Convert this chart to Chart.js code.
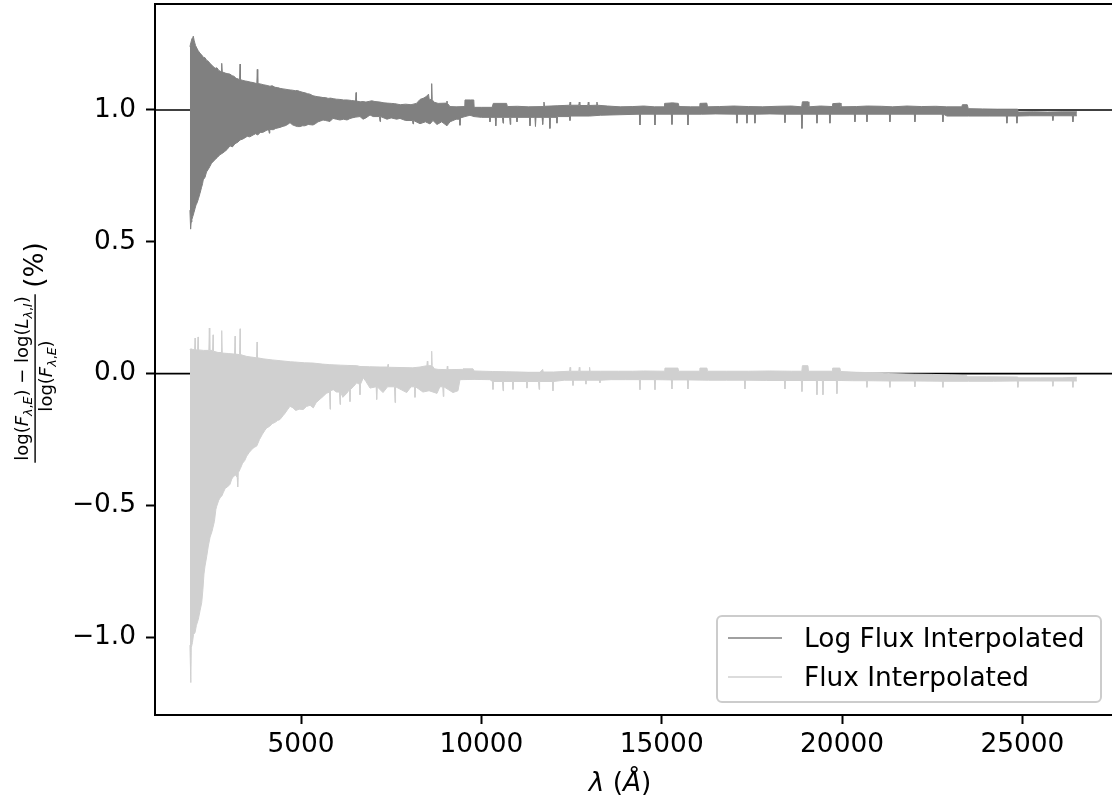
<!DOCTYPE html>
<html><head><meta charset="utf-8">
<script src="https://cdn.jsdelivr.net/npm/chart.js@4.4.1/dist/chart.umd.min.js"></script>
<style>
html,body{margin:0;padding:0;overflow:hidden;background:#fff;width:1112px;height:806px}
#wrap{position:absolute;left:0;top:0;width:1140px;height:806px}
</style>
</head><body><div id="wrap"><canvas id="c" width="1140" height="806"></canvas></div>
<script>
// ---- tick labels / axis ----
const xTickValues = [5000, 10000, 15000, 20000, 25000];
const yTickValues = [-1.0, -0.5, 0.0, 0.5, 1.0];
const refLevels = [1.0, 0.0];
const seriesNames = ["Log Flux Interpolated", "Flux Interpolated"];
const X_MIN = 952, X_MAX = 27567, Y_MIN = -1.295, Y_MAX = 1.402;

// ---- Log Flux Interpolated: upper / lower envelope [wavelength, value] ----
const logFluxUpper = [[1920,1.24],[1945,1.255],[1975,1.27],[2000,1.275],[2014,1.28],[2040,1.262],[2075,1.245],[2110,1.235],[2150,1.225],[2200,1.215],[2240,1.21],[2290,1.2],[2340,1.198],[2385,1.188],[2430,1.185],[2480,1.176],[2530,1.17],[2570,1.164],[2620,1.158],[2670,1.16],[2720,1.15],[2788,1.145],[2802,1.177],[2816,1.145],[2860,1.142],[2900,1.14],[2950,1.138],[3030,1.136],[3090,1.13],[3140,1.128],[3200,1.12],[3250,1.118],[3296,1.115],[3309,1.174],[3322,1.115],[3390,1.112],[3450,1.11],[3500,1.109],[3590,1.106],[3670,1.104],[3775,1.1],[3788,1.154],[3801,1.1],[3870,1.099],[3950,1.096],[4060,1.093],[4140,1.09],[4200,1.092],[4280,1.086],[4350,1.085],[4420,1.082],[4500,1.08],[4560,1.079],[4640,1.077],[4700,1.076],[4770,1.075],[4840,1.073],[4900,1.074],[4970,1.07],[5050,1.067],[5110,1.065],[5180,1.062],[5250,1.06],[5330,1.054],[5400,1.052],[5470,1.05],[5540,1.049],[5610,1.047],[5680,1.047],[5750,1.044],[5820,1.045],[5890,1.043],[5980,1.041],[6080,1.04],[6180,1.038],[6280,1.038],[6400,1.036],[6512,1.034],[6525,1.066],[6538,1.034],[6640,1.031],[6720,1.032],[6800,1.03],[6900,1.033],[6960,1.035],[7050,1.032],[7190,1.03],[7300,1.027],[7390,1.026],[7500,1.025],[7600,1.024],[7750,1.02],[7900,1.022],[8050,1.02],[8200,1.025],[8300,1.04],[8400,1.045],[8465,1.05],[8535,1.06],[8555,1.04],[8610,1.04],[8623,1.10],[8636,1.04],[8680,1.03],[8800,1.025],[9035,1.026],[9047,1.034],[9060,1.025],[9130,1.013],[9300,1.012],[9530,1.013],[9546,1.038],[9700,1.038],[9790,1.038],[9800,1.01],[10000,1.01],[10300,1.01],[10330,1.025],[10700,1.025],[10720,1.013],[11000,1.014],[11300,1.012],[11720,1.013],[11736,1.03],[11752,1.014],[12100,1.016],[12445,1.018],[12460,1.03],[12475,1.018],[12700,1.018],[12715,1.03],[12730,1.017],[12950,1.017],[12965,1.03],[12980,1.017],[13190,1.018],[13205,1.03],[13220,1.018],[13500,1.015],[13850,1.012],[14200,1.013],[14500,1.015],[14800,1.012],[15065,1.012],[15080,1.025],[15300,1.027],[15460,1.025],[15480,1.013],[15800,1.012],[16045,1.012],[16060,1.025],[16250,1.026],[16270,1.012],[16600,1.013],[17000,1.015],[17400,1.013],[17800,1.012],[18200,1.014],[18600,1.015],[18880,1.012],[18900,1.031],[19060,1.031],[19080,1.012],[19400,1.015],[19725,1.013],[19740,1.024],[19950,1.026],[19970,1.012],[20400,1.013],[20700,1.015],[21100,1.014],[21400,1.012],[21800,1.015],[22200,1.013],[22600,1.014],[22900,1.012],[23320,1.012],[23335,1.02],[23470,1.02],[23500,1.005],[23900,1.004],[24300,1.003],[24870,1.003],[24880,0.992],[25300,0.993],[25700,0.992],[26100,0.993],[26510,0.993]];
const logFluxLower = [[1920,0.62],[1940,0.548],[1955,0.575],[1975,0.585],[2000,0.596],[2030,0.61],[2060,0.625],[2090,0.64],[2120,0.648],[2160,0.665],[2200,0.684],[2240,0.705],[2270,0.72],[2290,0.735],[2340,0.745],[2380,0.765],[2420,0.773],[2470,0.785],[2520,0.798],[2560,0.804],[2620,0.812],[2680,0.82],[2750,0.83],[2810,0.835],[2880,0.842],[2950,0.85],[3030,0.864],[3100,0.86],[3170,0.872],[3250,0.878],[3310,0.886],[3390,0.89],[3450,0.895],[3510,0.9],[3580,0.898],[3670,0.905],[3740,0.91],[3800,0.905],[3870,0.915],[3940,0.915],[4010,0.92],[4060,0.924],[4105,0.924],[4120,0.912],[4135,0.926],[4230,0.925],[4300,0.93],[4420,0.934],[4500,0.938],[4560,0.94],[4630,0.945],[4695,0.952],[4760,0.944],[4830,0.94],[4900,0.937],[4970,0.937],[5040,0.94],[5110,0.94],[5200,0.945],[5333,0.943],[5400,0.948],[5471,0.955],[5540,0.958],[5610,0.962],[5680,0.96],[5750,0.958],[5800,0.956],[5887,0.968],[5980,0.965],[6080,0.962],[6180,0.965],[6275,0.962],[6350,0.967],[6414,0.97],[6520,0.973],[6635,0.975],[6720,0.965],[6800,0.97],[6913,0.981],[7000,0.975],[7175,0.975],[7190,0.956],[7205,0.975],[7384,0.965],[7500,0.97],[7650,0.965],[7744,0.968],[7900,0.96],[8090,0.96],[8105,0.947],[8120,0.96],[8300,0.948],[8450,0.955],[8576,0.947],[8659,0.96],[8770,0.945],[8900,0.955],[9047,0.94],[9130,0.955],[9300,0.965],[9392,0.965],[9407,0.942],[9422,0.97],[9546,0.975],[9685,0.98],[9796,0.975],[10000,0.972],[10224,0.972],[10239,0.955],[10254,0.972],[10385,0.972],[10400,0.94],[10415,0.972],[10585,0.972],[10600,0.95],[10615,0.972],[10785,0.972],[10800,0.945],[10815,0.972],[10973,0.972],[10988,0.955],[11003,0.972],[11333,0.972],[11348,0.94],[11363,0.972],[11485,0.972],[11500,0.937],[11515,0.972],[11685,0.972],[11700,0.945],[11715,0.972],[11885,0.972],[11900,0.93],[11915,0.972],[12081,0.972],[12096,0.95],[12111,0.975],[12442,0.975],[12457,0.96],[12472,0.977],[13000,0.977],[13300,0.98],[13843,0.982],[14380,0.984],[14397,0.943],[14414,0.984],[14796,0.984],[14813,0.943],[14830,0.984],[15267,0.984],[15284,0.945],[15301,0.984],[15711,0.984],[15728,0.943],[15745,0.984],[16100,0.984],[16500,0.985],[17069,0.984],[17086,0.95],[17103,0.984],[17346,0.984],[17363,0.95],[17380,0.984],[17568,0.984],[17585,0.95],[17602,0.984],[18000,0.985],[18400,0.984],[18417,0.952],[18434,0.984],[18871,0.984],[18888,0.93],[18905,0.984],[19287,0.984],[19304,0.95],[19321,0.984],[19647,0.984],[19664,0.95],[19681,0.984],[20340,0.984],[20357,0.955],[20374,0.984],[20673,0.984],[20690,0.955],[20707,0.984],[21310,0.984],[21327,0.955],[21344,0.984],[22003,0.984],[22020,0.955],[22037,0.984],[22779,0.984],[22796,0.955],[22813,0.984],[22907,0.977],[23500,0.977],[24100,0.977],[24553,0.977],[24570,0.95],[24587,0.977],[24831,0.977],[24848,0.95],[24865,0.977],[25200,0.978],[25828,0.978],[25845,0.96],[25862,0.978],[26383,0.978],[26400,0.955],[26417,0.978],[26510,0.978]];

// ---- Flux Interpolated: upper / lower envelope [wavelength, value] ----
const fluxUpper = [[1920,0.09],[1940,0.094],[1990,0.092],[2050,0.09],[2062,0.135],[2075,0.09],[2132,0.09],[2145,0.139],[2158,0.09],[2300,0.088],[2445,0.088],[2458,0.173],[2471,0.088],[2548,0.088],[2561,0.147],[2574,0.085],[2700,0.08],[2789,0.08],[2802,0.163],[2815,0.078],[3000,0.076],[3157,0.074],[3170,0.142],[3183,0.074],[3296,0.072],[3309,0.17],[3322,0.072],[3500,0.065],[3767,0.06],[3780,0.12],[3793,0.06],[3950,0.056],[4200,0.052],[4420,0.049],[4700,0.045],[4830,0.044],[5100,0.041],[5333,0.04],[5600,0.036],[5800,0.034],[6100,0.032],[6300,0.031],[6550,0.03],[6635,0.027],[6900,0.026],[7190,0.025],[7400,0.025],[7412,0.035],[7424,0.024],[7800,0.023],[8100,0.022],[8300,0.025],[8489,0.03],[8502,0.047],[8515,0.03],[8610,0.03],[8623,0.085],[8636,0.03],[8700,0.018],[8800,0.016],[9043,0.015],[9056,0.028],[9069,0.015],[9480,0.016],[9491,0.018],[9768,0.018],[9800,0.01],[10045,0.009],[10300,0.008],[10700,0.007],[11071,0.006],[11300,0.005],[11625,0.005],[11700,0.016],[11715,0.006],[12000,0.006],[12445,0.009],[12460,0.024],[12475,0.009],[12700,0.009],[12715,0.024],[12730,0.009],[12985,0.009],[13000,0.024],[13015,0.009],[13300,0.009],[13800,0.009],[14200,0.009],[14500,0.01],[15075,0.009],[15090,0.021],[15450,0.021],[15470,0.009],[16045,0.009],[16060,0.021],[16254,0.021],[16270,0.009],[16800,0.009],[17400,0.009],[18000,0.01],[18600,0.009],[18885,0.009],[18900,0.03],[19054,0.03],[19070,0.009],[19725,0.009],[19740,0.021],[19940,0.021],[19960,0.008],[20400,0.005],[21000,0.003],[21330,0.0],[22000,-0.002],[22500,-0.003],[23000,-0.005],[23460,-0.008],[23480,-0.012],[24000,-0.012],[24870,-0.013],[24880,-0.016],[25500,-0.016],[26100,-0.016],[26510,-0.014]];
const fluxLower = [[1920,-1.03],[1945,-1.172],[1958,-1.04],[1990,-1.02],[2020,-0.99],[2062,-0.982],[2100,-0.955],[2153,-0.932],[2200,-0.9],[2247,-0.869],[2280,-0.82],[2310,-0.76],[2339,-0.73],[2390,-0.69],[2430,-0.654],[2480,-0.62],[2530,-0.6],[2569,-0.578],[2600,-0.56],[2640,-0.515],[2663,-0.503],[2720,-0.48],[2770,-0.468],[2802,-0.465],[2850,-0.45],[2900,-0.435],[2960,-0.43],[3032,-0.42],[3080,-0.4],[3130,-0.39],[3190,-0.385],[3232,-0.395],[3245,-0.43],[3262,-0.376],[3320,-0.36],[3380,-0.34],[3440,-0.33],[3495,-0.313],[3560,-0.3],[3620,-0.29],[3700,-0.28],[3772,-0.275],[3850,-0.25],[3930,-0.23],[4000,-0.215],[4049,-0.206],[4130,-0.2],[4200,-0.19],[4280,-0.185],[4350,-0.178],[4418,-0.174],[4500,-0.16],[4560,-0.15],[4620,-0.138],[4695,-0.124],[4780,-0.13],[4850,-0.14],[4950,-0.135],[5064,-0.136],[5150,-0.125],[5250,-0.12],[5341,-0.13],[5420,-0.11],[5500,-0.1],[5618,-0.086],[5700,-0.075],[5790,-0.07],[5804,-0.135],[5818,-0.065],[5895,-0.061],[5980,-0.07],[6066,-0.07],[6081,-0.117],[6096,-0.07],[6160,-0.09],[6267,-0.075],[6343,-0.06],[6358,-0.106],[6373,-0.06],[6450,-0.05],[6544,-0.035],[6620,-0.04],[6635,-0.08],[6650,-0.04],[6727,-0.016],[6800,-0.03],[6913,-0.055],[7083,-0.05],[7098,-0.098],[7113,-0.05],[7273,-0.072],[7400,-0.05],[7591,-0.05],[7606,-0.11],[7621,-0.05],[7930,-0.072],[8050,-0.05],[8145,-0.05],[8160,-0.09],[8175,-0.05],[8380,-0.07],[8550,-0.065],[8770,-0.075],[8850,-0.05],[8930,-0.05],[8945,-0.087],[8960,-0.05],[9213,-0.072],[9352,-0.065],[9407,-0.023],[9800,-0.022],[10239,-0.023],[10307,-0.03],[10322,-0.06],[10337,-0.03],[10585,-0.03],[10600,-0.065],[10615,-0.03],[10862,-0.03],[10877,-0.06],[10892,-0.03],[11250,-0.03],[11265,-0.055],[11280,-0.03],[11585,-0.03],[11600,-0.06],[11615,-0.03],[11970,-0.03],[11985,-0.065],[12000,-0.03],[12300,-0.025],[12525,-0.025],[12540,-0.045],[12555,-0.025],[12885,-0.025],[12900,-0.04],[12915,-0.025],[13273,-0.025],[13288,-0.035],[13303,-0.025],[13600,-0.023],[14000,-0.023],[14380,-0.023],[14397,-0.061],[14414,-0.023],[14796,-0.023],[14813,-0.061],[14830,-0.023],[15267,-0.024],[15284,-0.058],[15301,-0.024],[15711,-0.024],[15728,-0.058],[15745,-0.024],[16300,-0.025],[16800,-0.025],[17291,-0.025],[17308,-0.058],[17325,-0.025],[17900,-0.026],[18400,-0.026],[18417,-0.058],[18434,-0.026],[18871,-0.026],[18888,-0.068],[18905,-0.026],[19287,-0.026],[19304,-0.08],[19321,-0.026],[19453,-0.026],[19470,-0.08],[19487,-0.026],[19841,-0.026],[19858,-0.076],[19875,-0.026],[20300,-0.027],[20673,-0.027],[20690,-0.052],[20707,-0.027],[21310,-0.028],[21327,-0.052],[21344,-0.028],[22003,-0.028],[22020,-0.05],[22037,-0.028],[22779,-0.029],[22796,-0.052],[22813,-0.029],[23500,-0.029],[24200,-0.029],[24858,-0.028],[24875,-0.052],[24892,-0.028],[25400,-0.028],[25828,-0.028],[25845,-0.048],[25862,-0.028],[26383,-0.028],[26400,-0.052],[26417,-0.028],[26510,-0.028]];

const DARK = '#808080', LIGHT = '#d0d0d0';
const FONT = "'DejaVu Sans', sans-serif";
const FS = 26.4;
Chart.defaults.font.family = FONT;

const toXY = arr => arr.map(p => ({x: p[0], y: p[1]}));
const hline = v => [{x: X_MIN, y: v}, {x: X_MAX, y: v}];

function richWidth(ctx, segs){ let w=0; for(const s of segs){ ctx.font=s.f; w+=ctx.measureText(s.t).width; } return w; }
function drawRich(ctx, segs, x, y){ for(const s of segs){ ctx.font=s.f; ctx.fillText(s.t, x, y+(s.dy||0)); x+=ctx.measureText(s.t).width; } }

const framePlugin = {
  id: 'frame',
  afterDraw(chart){
    const {ctx, chartArea: a} = chart;
    ctx.save();
    ctx.strokeStyle = '#000'; ctx.lineWidth = 2;
    ctx.strokeRect(a.left, a.top, a.right - a.left, a.bottom - a.top);
    ctx.fillStyle = '#000'; ctx.textBaseline = 'alphabetic'; ctx.textAlign = 'left';
    // x title
    const N = FS + 'px ' + FONT, I = 'italic ' + FS + 'px ' + FONT;
    const xt = [{t:'λ', f:I},{t:' (', f:N},{t:'Å', f:I},{t:')', f:N}];
    const xw = richWidth(ctx, xt);
    drawRich(ctx, xt, 620 - xw/2, 791);
    // y title (rotated)
    ctx.save();
    ctx.rotate(-Math.PI/2);
    const n = '18px ' + FONT, ni = 'italic 18px ' + FONT, s = '12.6px ' + FONT, si = 'italic 12.6px ' + FONT;
    const num = [{t:'log(',f:n},{t:'F',f:ni},{t:'λ',f:si,dy:4},{t:',',f:s,dy:4},{t:'E',f:si,dy:4},{t:') − log(',f:n},{t:'L',f:ni},{t:'λ',f:si,dy:4},{t:',',f:s,dy:4},{t:'I',f:si,dy:4},{t:')',f:n}];
    const den = [{t:'log(',f:n},{t:'F',f:ni},{t:'λ',f:si,dy:4},{t:',',f:s,dy:4},{t:'E',f:si,dy:4},{t:')',f:n}];
    const nw = richWidth(ctx, num), dw = richWidth(ctx, den);
    drawRich(ctx, num, -378.5 - nw/2, 28);
    drawRich(ctx, den, -376 - dw/2, 52);
    ctx.fillRect(-378.5 - nw/2 - 2, 34.4, nw + 4, 1.4);
    ctx.font = N;
    const pw = ctx.measureText('(%)').width;
    ctx.fillText('(%)', -265 - pw/2, 43);
    ctx.restore();
    // legend
    const bx = 717, by = 616, bw = 384, bh = 86, r = 5;
    ctx.beginPath();
    ctx.moveTo(bx + r, by); ctx.lineTo(bx + bw - r, by); ctx.arcTo(bx + bw, by, bx + bw, by + r, r);
    ctx.lineTo(bx + bw, by + bh - r); ctx.arcTo(bx + bw, by + bh, bx + bw - r, by + bh, r);
    ctx.lineTo(bx + r, by + bh); ctx.arcTo(bx, by + bh, bx, by + bh - r, r);
    ctx.lineTo(bx, by + r); ctx.arcTo(bx, by, bx + r, by, r); ctx.closePath();
    ctx.fillStyle = 'rgba(255,255,255,0.8)'; ctx.fill();
    ctx.strokeStyle = '#cccccc'; ctx.lineWidth = 2; ctx.stroke();
    const rows = [[seriesNames[0], DARK, 638, 647], [seriesNames[1], LIGHT, 677, 686]];
    for (const [label, col, ly, tb] of rows){
      ctx.strokeStyle = col; ctx.lineWidth = 1.4;
      ctx.beginPath(); ctx.moveTo(728, ly); ctx.lineTo(782, ly); ctx.stroke();
      ctx.fillStyle = '#000'; ctx.font = N; ctx.fillText(label, 804, tb);
    }
    ctx.restore();
  }
};

const ds = (data, col, fill) => ({data: toXY(data), borderColor: col, backgroundColor: col, borderWidth: 1, pointRadius: 0, fill: fill, tension: 0});

new Chart(document.getElementById('c'), {
  type: 'line',
  data: { datasets: [
    ds(logFluxUpper, DARK, false),
    ds(logFluxLower, DARK, '-1'),
    ds(fluxUpper, LIGHT, false),
    ds(fluxLower, LIGHT, '-1'),
    {data: hline(refLevels[0]), borderColor: '#000', borderWidth: 1.6, pointRadius: 0, fill: false},
    {data: hline(refLevels[1]), borderColor: '#000', borderWidth: 1.6, pointRadius: 0, fill: false}
  ]},
  options: {
    responsive: false, animation: false, devicePixelRatio: 1,
    layout: {padding: {top: 4, right: 25, left: 0, bottom: 0}},
    plugins: {legend: {display: false}, tooltip: {enabled: false}},
    elements: {point: {radius: 0}},
    scales: {
      x: {type: 'linear', min: X_MIN, max: X_MAX,
          afterBuildTicks: sc => { sc.ticks = xTickValues.map(v => ({value: v})); },
          afterFit: sc => { sc.height = 91; sc.paddingLeft = 0; sc.paddingRight = 0; },
          ticks: {font: {size: FS}, color: '#000', padding: 5, maxRotation: 0, autoSkip: false, callback: v => String(v)},
          grid: {display: true, drawOnChartArea: false, drawTicks: true, tickLength: 9, tickWidth: 2, tickColor: '#000'},
          border: {display: false}},
      y: {type: 'linear', min: Y_MIN, max: Y_MAX,
          afterBuildTicks: sc => { sc.ticks = yTickValues.map(v => ({value: v})); },
          afterFit: sc => { sc.width = 155; sc.paddingTop = 0; sc.paddingBottom = 0; },
          ticks: {font: {size: FS}, color: '#000', padding: 10, autoSkip: false, callback: v => (v < 0 ? '−' : '') + Math.abs(v).toFixed(1)},
          grid: {display: true, drawOnChartArea: false, drawTicks: true, tickLength: 9, tickWidth: 2, tickColor: '#000'},
          border: {display: false}}
    }
  },
  plugins: [framePlugin]
});
</script></body></html>
